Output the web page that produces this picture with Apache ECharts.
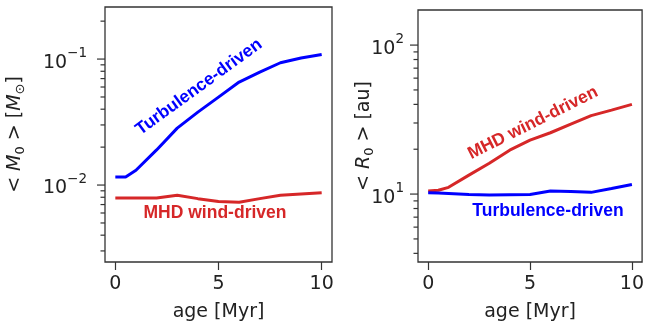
<!DOCTYPE html>
<html>
<head>
<meta charset="utf-8">
<script src="https://cdn.jsdelivr.net/npm/echarts@6/dist/echarts.min.js"></script>
<style>
  html, body { margin: 0; padding: 0; background: #ffffff; }
  #chart { width: 647px; height: 329px; }
</style>
</head>
<body>
<div id="chart"></div>
<script>
// Disk population averages versus age, two evolution scenarios.
const ages = [0, 0.5, 1, 2, 3, 4, 5, 6, 7, 8, 9, 10];

// Mean disk mass <M0> [Msun]
const massTurbulence = [0.0116, 0.0116, 0.0131, 0.0190, 0.0283, 0.0379, 0.0499, 0.0657, 0.0788, 0.0935, 0.1019, 0.1089];
const massWind       = [0.0079, 0.0079, 0.0079, 0.0079, 0.0083, 0.0078, 0.0074, 0.0073, 0.0078, 0.0083, 0.0085, 0.0087];

// Mean characteristic radius <R0> [au]
const radiusWind       = [10.5, 10.6, 11.1, 13.4, 16.1, 19.7, 23.0, 25.8, 29.5, 33.6, 36.6, 40.0];
const radiusTurbulence = [10.2, 10.15, 10.1, 9.95, 9.85, 9.9, 9.95, 10.5, 10.4, 10.27, 10.9, 11.6];

// Axis ticks
const ageTicks = [0, 5, 10];
const massMajorTicks = [0.01, 0.1];
const massMinorTicks = [0.003, 0.004, 0.005, 0.006, 0.007, 0.008, 0.009,
                        0.02, 0.03, 0.04, 0.05, 0.06, 0.07, 0.08, 0.09, 0.2];
const radiusMajorTicks = [10, 100];
const radiusMinorTicks = [4, 5, 6, 7, 8, 9, 20, 30, 40, 50, 60, 70, 80, 90];

const BLUE = '#0000ff';
const RED = '#d62728';
const INK = '#222222';
const FRAME = '#333333';
const FONT = '"DejaVu Sans", sans-serif';
const NOTE_FONT = 'bold 17.5px "Liberation Sans", Arial, sans-serif';

function lineSeries(gridIdx, values, color) {
  return {
    type: 'line',
    xAxisIndex: gridIdx,
    yAxisIndex: gridIdx,
    data: ages.map((a, i) => [a, values[i]]),
    showSymbol: false,
    silent: true,
    lineStyle: { color: color, width: 3 },
    itemStyle: { color: color },
    z: 3
  };
}

// Log-axis tick marks (decades labelled, 2..9 minors) drawn through the axis scale
function tickSeries(gridIdx, values, major, labelGap) {
  return {
    type: 'custom',
    xAxisIndex: gridIdx,
    yAxisIndex: gridIdx,
    silent: true,
    clip: false,
    data: values.map(v => [0, v]),
    renderItem(params, api) {
      const v = api.value(1);
      const y = api.coord([0, v])[1];
      const x0 = params.coordSys.x;
      const len = major ? 8 : 4.5;
      const children = [{
        type: 'line',
        shape: { x1: x0 - len, y1: y, x2: x0, y2: y },
        style: { stroke: FRAME, lineWidth: 1.2 }
      }];
      if (major) {
        const p = Math.round(Math.log10(v));
        const exp = (p < 0 ? '\u2212' : '') + Math.abs(p);
        children.push({
          type: 'text',
          x: x0 - labelGap,
          y: y,
          style: {
            text: '{b|10}{p|' + exp + '}',
            align: 'right',
            verticalAlign: 'middle',
            fill: INK,
            rich: {
              b: { fontSize: 19, fontFamily: FONT, fill: INK, lineHeight: 26, verticalAlign: 'bottom' },
              p: { fontSize: 13.5, fontFamily: FONT, fill: INK, lineHeight: 26, verticalAlign: 'top' }
            }
          }
        });
      }
      return { type: 'group', children: children };
    }
  };
}

function xAxisFor(gridIdx) {
  return {
    type: 'value',
    gridIndex: gridIdx,
    min: -0.5,
    max: 10.5,
    name: 'age [Myr]',
    nameLocation: 'middle',
    nameGap: 41,
    nameTextStyle: { fontFamily: FONT, fontSize: 19, color: INK },
    axisLine: { show: false },
    splitLine: { show: false },
    axisTick: { show: true, inside: false, length: 8, customValues: ageTicks,
                lineStyle: { color: FRAME, width: 1.2 } },
    axisLabel: { show: true, customValues: ageTicks, margin: 13,
                 fontFamily: FONT, fontSize: 19, color: INK }
  };
}

const titleRich = {
  n: { fontFamily: FONT, fontSize: 19, color: INK, lineHeight: 24 },
  i: { fontFamily: FONT, fontSize: 19, color: INK, fontStyle: 'italic', lineHeight: 24 },
  s: { fontFamily: FONT, fontSize: 13, color: INK, lineHeight: 14, verticalAlign: 'bottom' }
};

function yAxisFor(gridIdx, min, max, name, gap) {
  return {
    type: 'log',
    logBase: 10,
    gridIndex: gridIdx,
    min: min,
    max: max,
    name: name,
    nameLocation: 'middle',
    nameRotate: 90,
    nameGap: gap,
    nameTextStyle: { fontFamily: FONT, fontSize: 19, color: INK, rich: titleRich },
    axisLine: { show: false },
    axisTick: { show: false },
    axisLabel: { show: false },
    splitLine: { show: false },
    minorTick: { show: false },
    minorSplitLine: { show: false }
  };
}

const chart = echarts.init(document.getElementById('chart'), null, { renderer: 'canvas' });

chart.setOption({
  animation: false,
  backgroundColor: '#ffffff',
  grid: [
    { left: 105, top: 7, width: 227, height: 255, show: true,
      borderColor: FRAME, borderWidth: 1.3, backgroundColor: 'transparent' },
    { left: 418, top: 10, width: 226, height: 252, show: true,
      borderColor: FRAME, borderWidth: 1.3, backgroundColor: 'transparent' }
  ],
  xAxis: [xAxisFor(0), xAxisFor(1)],
  yAxis: [
    yAxisFor(0, 0.00245, 0.259, '{n|< }{i|M}{s|0}{n| > [}{i|M}{s|\u2299}{n|]}', 78),
    yAxisFor(1, 3.5, 172, '{n|< }{i|R}{s|0}{n| > [au]}', 42)
  ],
  series: [
    lineSeries(0, massTurbulence, BLUE),
    lineSeries(0, massWind, RED),
    lineSeries(1, radiusWind, RED),
    lineSeries(1, radiusTurbulence, BLUE),
    tickSeries(0, massMajorTicks, true, 18),
    tickSeries(0, massMinorTicks, false, 18),
    tickSeries(1, radiusMajorTicks, true, 14),
    tickSeries(1, radiusMinorTicks, false, 14)
  ],
  graphic: [
    { type: 'text', x: 199, y: 87, rotation: 36 * Math.PI / 180, z: 10,
      style: { text: 'Turbulence-driven', fill: BLUE, font: NOTE_FONT,
               align: 'center', verticalAlign: 'middle', textAlign: 'center', textVerticalAlign: 'middle' } },
    { type: 'text', x: 215, y: 213, z: 10,
      style: { text: 'MHD wind-driven', fill: RED, font: NOTE_FONT,
               align: 'center', verticalAlign: 'middle', textAlign: 'center', textVerticalAlign: 'middle' } },
    { type: 'text', x: 533, y: 123, rotation: 26.6 * Math.PI / 180, z: 10,
      style: { text: 'MHD wind-driven', fill: RED, font: NOTE_FONT,
               align: 'center', verticalAlign: 'middle', textAlign: 'center', textVerticalAlign: 'middle' } },
    { type: 'text', x: 548, y: 211, z: 10,
      style: { text: 'Turbulence-driven', fill: BLUE, font: NOTE_FONT,
               align: 'center', verticalAlign: 'middle', textAlign: 'center', textVerticalAlign: 'middle' } }
  ]
});
</script>
</body>
</html>
